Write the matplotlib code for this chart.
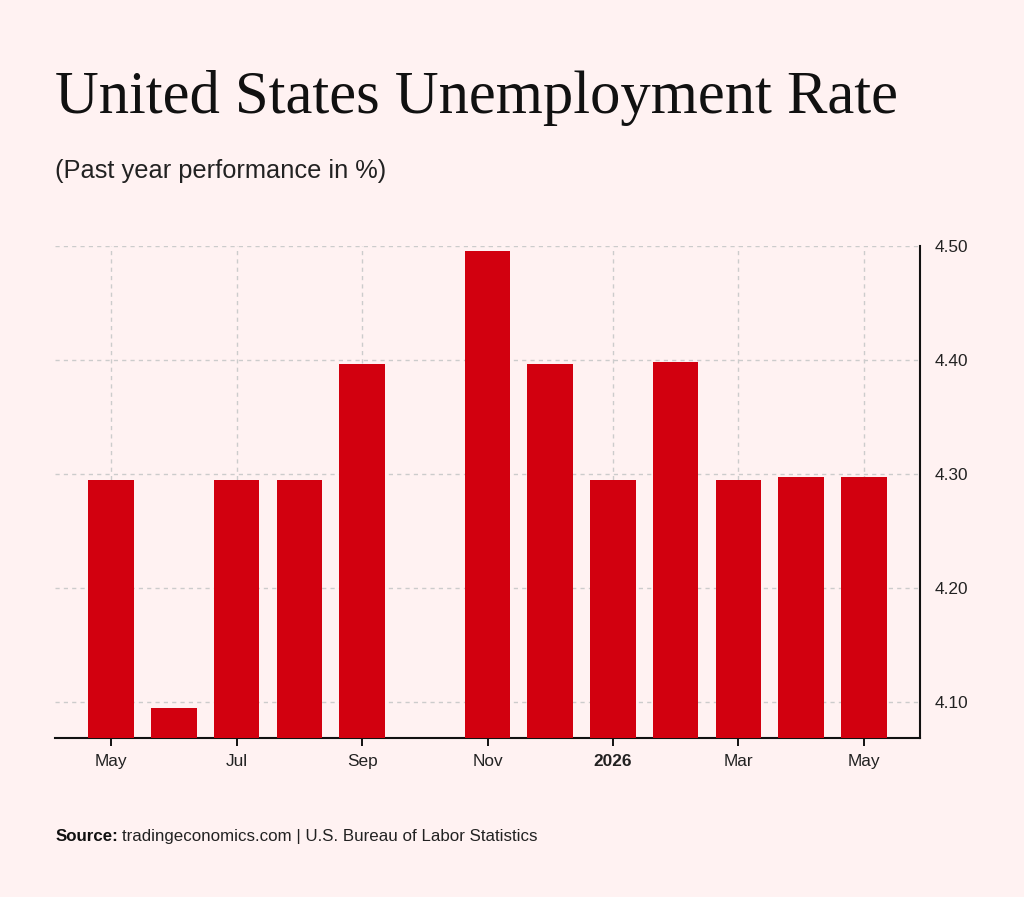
import numpy as np
import matplotlib
matplotlib.use("Agg")
import matplotlib.pyplot as plt

# monthly unemployment rate, May 2025 - May 2026 (Oct 2025 not published)
months = ['May', 'Jun', 'Jul', 'Aug', 'Sep', 'Oct', 'Nov', 'Dec',
          'Jan', 'Feb', 'Mar', 'Apr', 'May']
rates = [4.295, 4.095, 4.295, 4.295, 4.396, np.nan, 4.495, 4.396,
         4.295, 4.398, 4.295, 4.297, 4.297]

tick_idx = [0, 2, 4, 6, 8, 10, 12]
tick_labels = ['May', 'Jul', 'Sep', 'Nov', '2026', 'Mar', 'May']
y_ticks = [4.10, 4.20, 4.30, 4.40, 4.50]

bg = '#fff2f2'
bar_color = '#d2000f'

plt.rcParams['font.family'] = ['Liberation Sans', 'DejaVu Sans']

fig = plt.figure(figsize=(10.24, 8.97), dpi=100, facecolor=bg)
ax = fig.add_axes([0.0537, 0.1776, 0.8447, 0.5485], facecolor=bg)

x = np.arange(len(months))
ax.bar(x, rates, width=0.728, color=bar_color, zorder=3)

ax.set_xlim(-0.897, 12.896)
ax.set_ylim(4.0688, 4.50)

ax.set_xticks(tick_idx)
ax.set_xticklabels(tick_labels, fontsize=12.4, color='#222222')
ax.get_xticklabels()[4].set_fontweight('bold')

ax.yaxis.tick_right()
ax.set_yticks(y_ticks)
ax.set_yticklabels([f'{v:.2f}' for v in y_ticks], fontsize=12.4, color='#222222')

ax.tick_params(axis='x', length=6, width=1.3, pad=6)
ax.tick_params(axis='y', length=0, pad=10.5)

ax.grid(True, color='#cccccc', linestyle=(0, (3, 3)), linewidth=1, zorder=0)

for side in ['top', 'left']:
    ax.spines[side].set_visible(False)
for side in ['bottom', 'right']:
    ax.spines[side].set_linewidth(1.5)
    ax.spines[side].set_color('#111111')

fig.text(0.054, 0.874, 'United States Unemployment Rate', fontsize=43.7,
         family=['Liberation Serif', 'DejaVu Serif'], color='#111111',
         va='baseline')
fig.text(0.054, 0.8015, '(Past year performance in %)', fontsize=18.3,
         color='#222222', va='baseline')

src = fig.text(0.054, 0.0627, 'Source:', fontsize=12.2, fontweight='bold',
               color='#111111', va='baseline')
fig.canvas.draw()
bb = src.get_window_extent()
fig.text((bb.x1 + 4) / fig.bbox.width, 0.0627,
         'tradingeconomics.com | U.S. Bureau of Labor Statistics',
         fontsize=12.2, color='#222222', va='baseline')

plt.savefig('out.png', dpi=100, facecolor=bg)
